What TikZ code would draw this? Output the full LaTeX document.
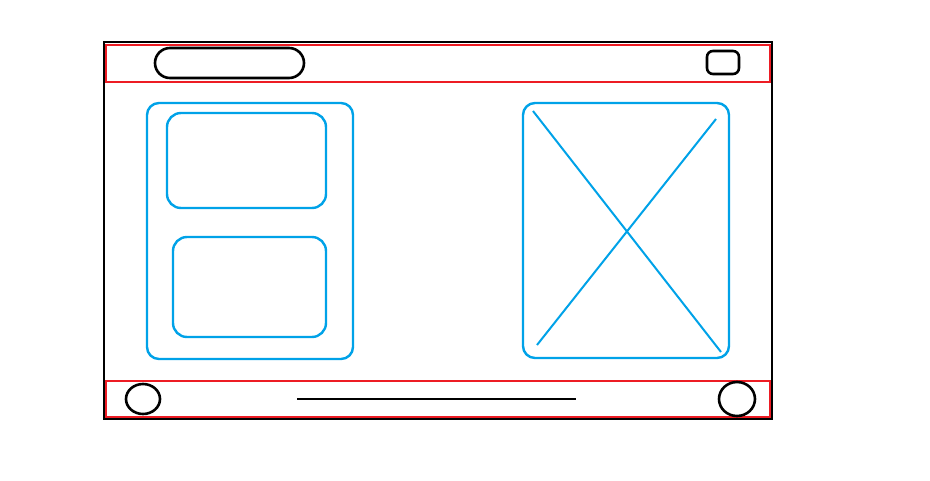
\documentclass[tikz,border=0pt]{standalone}
\usepackage{xcolor}
\usepackage{tikz}
\usetikzlibrary{positioning,calc}
\definecolor{frame}{HTML}{000000}
\definecolor{barred}{HTML}{ED1C24}
\definecolor{paneblue}{HTML}{00A2E8}

\begin{document}
\begin{tikzpicture}[
    x=1pt, y=-1pt,
    screen/.style={draw=frame, line width=2.6pt},
    bar/.style={draw=barred, line width=2.6pt},
    widget/.style={draw=frame, line width=2.6pt},
    pane/.style={draw=paneblue, line width=2.4pt, rounded corners=12pt},
    card/.style={draw=paneblue, line width=2.4pt, rounded corners=14pt},
    cross/.style={draw=paneblue, line width=2pt}
]
    \useasboundingbox (0,0) rectangle (930,480);

    % device outline and bars
    \draw[screen] (104,42) rectangle (772,419);
    \draw[bar] (106,45) rectangle (770,82);
    \draw[bar] (106,381) rectangle (770,417);

    % top bar widgets
    \draw[widget, rounded corners=15pt] (155,48) rectangle (304,78);
    \draw[widget, rounded corners=6pt] (707,51) rectangle (739,74);

    % bottom bar widgets
    \draw[widget] (143,399) ellipse (17 and 15);
    \draw[widget] (737,399) ellipse (18 and 17);
    \draw[widget] (297,399) -- (576,399);

    % left pane with two cards
    \draw[pane] (147,103) rectangle (353,359);
    \draw[card] (167,113) rectangle (326,208);
    \draw[card] (173,237) rectangle (326,337);

    % right pane, image placeholder
    \draw[pane] (523,103) rectangle (729,358);
    \draw[cross] (533,111) -- (721,352);
    \draw[cross] (537,345) -- (716,119);
\end{tikzpicture}
\end{document}
